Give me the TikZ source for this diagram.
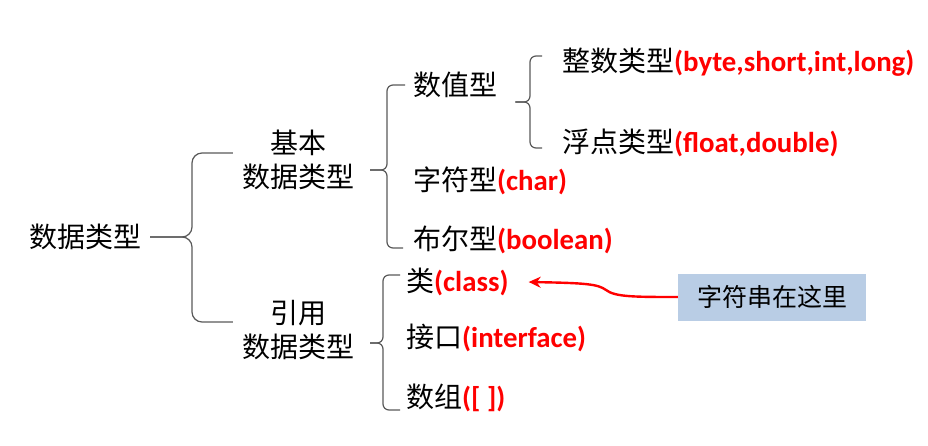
\documentclass[tikz,border=0pt]{standalone}
\usepackage{fontspec}
\newfontfamily\cjk{Noto Sans CJK SC}
\newfontfamily\latn{Carlito}
\usetikzlibrary{arrows.meta}
\definecolor{bracegray}{HTML}{595959}
\definecolor{notebg}{HTML}{B9CDE5}
\newcommand{\en}[1]{{\latn\bfseries\fontsize{28.8}{34}\selectfont\color{red}#1}}

\begin{document}
\begin{tikzpicture}[x=1pt, y=-1pt,
  txt/.style = {inner sep=0pt, font=\cjk\fontsize{28}{34}\selectfont},
  leaf/.style = {txt, anchor=west},
  brc/.style = {draw=bracegray, line width=1.2pt, rounded corners=#1},
  brc/.default = 8pt,
  note/.style = {fill=notebg, minimum width=188pt, minimum height=47pt, inner sep=0pt, font=\cjk\fontsize{25}{30}\selectfont},
  arr/.style = {draw=red, line width=2.4pt, -{Stealth[length=12pt,width=11pt]}}]

\useasboundingbox (0,0) rectangle (928,446);

% Nodes
\node[txt] (root) at (85,237) {数据类型};
\node[txt, align=center] (basic) at (298,160) {基本\\数据类型};
\node[txt, align=center] (refr) at (298,330) {引用\\数据类型};

\node[leaf] (num) at (413,85) {数值型};
\node[leaf] (int) at (562,62) {整数类型\en{(byte,short,int,long)}};
\node[leaf] (flt) at (562,143) {浮点类型\en{(float,double)}};
\node[leaf] (chr) at (413,181) {字符型\en{(char)}};
\node[leaf] (bool) at (413,240) {布尔型\en{(boolean)}};

\node[leaf] (cls) at (406,282) {类\en{(class)}};
\node[leaf] (itf) at (406,338) {接口\en{(interface)}};
\node[leaf] (ary) at (406,398) {数组\en{([ ])}};

\node[note] (note) at (772,297) {字符串在这里};

% Brace tips
\coordinate (t0) at ([xshift=9pt]root.east);
\coordinate (t1) at ([xshift=16pt, yshift=-10pt]basic.east);
\coordinate (t2) at ([xshift=16pt, yshift=-13pt]refr.east);
\coordinate (t3) at ([xshift=18pt, yshift=-17pt]num.east);
\coordinate (v0) at (192,0);
\coordinate (v1) at (387,0);
\coordinate (v2) at (383,0);
\coordinate (v3) at (530,0);

% Braces
\draw[brc=10pt] ([xshift=-9pt, yshift=7pt]basic.west) -| (v0 |- t0) -- (t0);
\draw[brc=10pt] ([xshift=-9pt, yshift=8pt]refr.west) -| (v0 |- t0) -- (t0);

\draw[brc=6pt] ([xshift=-8pt]num.west) -| (v1 |- t1) -- (t1);
\draw[brc=6pt] ([xshift=-10pt, yshift=-8pt]bool.west) -| (v1 |- t1) -- (t1);

\draw[brc=6pt] ([xshift=-6pt, yshift=7pt]cls.west) -| (v2 |- t2) -- (t2);
\draw[brc=6pt] ([xshift=-6pt, yshift=-12pt]ary.west) -| (v2 |- t2) -- (t2);

\draw[brc=6pt] ([xshift=-20pt, yshift=6pt]int.west) -| (v3 |- t3) -- (t3);
\draw[brc=6pt] ([xshift=-20pt, yshift=-5pt]flt.west) -| (v3 |- t3) -- (t3);

% Arrow
\coordinate (hit) at ([xshift=20pt]cls.east);
\draw[arr] (note.west) .. controls (635,297) and (615,297) .. (606,290) .. controls (598,284) and (585,283) .. (hit);

\end{tikzpicture}
\end{document}
